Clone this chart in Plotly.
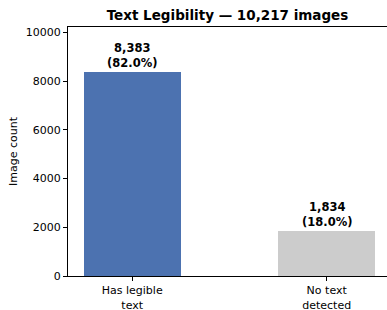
import plotly.graph_objects as go

categories = ["Has legible<br>text", "No text<br>detected"]
counts = [8383, 1834]
percents = [82.0, 18.0]
colors = ["#4C72B0", "#CCCCCC"]
title = "Text Legibility — 10,217 images"
y_ticks = [0, 2000, 4000, 6000, 8000, 10000]

font = "DejaVu Sans"
fig = go.Figure()
fig.add_trace(go.Bar(x=[0, 1], y=counts, width=0.5, marker=dict(color=colors, line=dict(width=0)),
                     showlegend=False))
for i, (c, p) in enumerate(zip(counts, percents)):
    fig.add_annotation(x=i, y=c, text=f"<b>{c:,}<br>({p:.1f}%)</b>", showarrow=False,
                       yanchor="bottom", yshift=0, font=dict(family=font, size=11.5, color="black"))

fig.update_layout(
    width=387, height=310,
    margin=dict(l=68, r=0, t=27, b=34, autoexpand=False),
    plot_bgcolor="white", paper_bgcolor="white",
    title=dict(text=f"<b>{title}</b>", x=(68 + 387) / 2 / 387, xanchor="center", y=1 - 15 / 310,
               yanchor="middle", font=dict(family=font, size=13.5, color="black")),
    font=dict(family=font, size=11, color="black"),
    bargap=0,
)
fig.update_xaxes(range=[-0.33, 1.31], tickvals=[0, 1], ticktext=categories, showline=True,
                 linecolor="black", linewidth=1, mirror=True, ticks="outside", ticklen=4,
                 tickcolor="black", showgrid=False, zeroline=False, tickfont=dict(size=11),
                 automargin=False)
fig.update_yaxes(range=[0, 10220], tickvals=y_ticks, ticktext=[str(v) for v in y_ticks],
                 showline=True, linecolor="black", linewidth=1,
                 ticks="outside", ticklen=4, tickcolor="black", showgrid=False, zeroline=False,
                 title=dict(text="Image count", font=dict(size=11), standoff=5), tickfont=dict(size=11),
                 automargin=False)
fig.write_html("out.html", config={"displayModeBar": False},
               post_script="document.body.style.margin='0';document.body.style.overflow='hidden';")
